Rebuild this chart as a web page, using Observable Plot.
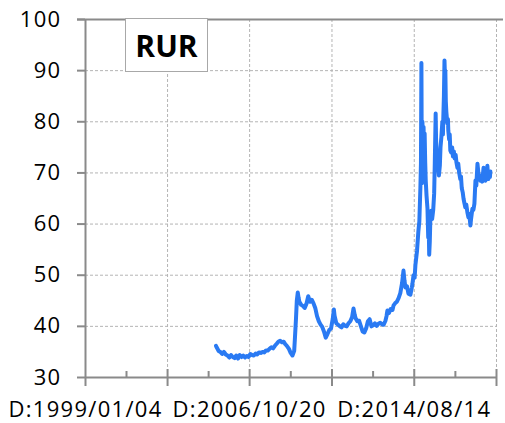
<!DOCTYPE html>
<html>
<head>
<meta charset="utf-8">
<script src="https://cdn.jsdelivr.net/npm/d3@7"></script>
<script src="https://cdn.jsdelivr.net/npm/@observablehq/plot@0.6"></script>
<style>
  html, body { margin: 0; padding: 0; background: #fff; }
  #wrap { position: relative; width: 505px; height: 423px; overflow: hidden; }
  #wrap svg { position: absolute; left: 0; top: 0; }
  #wrap svg text { letter-spacing: 1.3px; }
  #title {
    position: absolute; left: 125px; top: 18px; width: 83px; height: 54px;
    box-sizing: border-box; border: 1.5px solid #a8a8a8; background: #fff;
    font: bold 30px "Open Sans", sans-serif; color: #000;
    display: flex; align-items: center; justify-content: center; z-index: 2;
  }
</style>
</head>
<body>
<div id="wrap"><div id="title">RUR</div></div>
<script>
const titleText = "RUR";

const dates = [
  "2005-03-15","2005-04-01","2005-05-01","2005-06-01","2005-07-01","2005-08-01","2005-09-01","2005-10-01","2005-11-01","2005-12-01",
  "2006-01-01","2006-02-01","2006-03-01","2006-04-01","2006-05-01","2006-06-01","2006-07-01","2006-08-01","2006-09-01","2006-10-01","2006-11-01","2006-12-01",
  "2007-01-01","2007-02-01","2007-03-01","2007-04-01","2007-05-01","2007-06-01","2007-07-01","2007-08-01","2007-09-01","2007-10-01","2007-11-01","2007-12-01",
  "2008-01-01","2008-02-01","2008-03-01","2008-04-01","2008-05-01","2008-06-01","2008-07-01","2008-08-01","2008-09-01","2008-10-01","2008-11-01","2008-12-01","2008-12-15",
  "2009-01-01","2009-01-15","2009-02-01","2009-02-15","2009-03-01","2009-04-01","2009-05-01","2009-06-01","2009-07-01","2009-08-01","2009-09-01","2009-10-01","2009-11-01","2009-12-01",
  "2010-01-01","2010-02-01","2010-03-01","2010-04-01","2010-05-01","2010-06-01","2010-07-01","2010-08-01","2010-09-01","2010-10-01","2010-10-20","2010-11-01","2010-12-01",
  "2011-01-01","2011-02-01","2011-03-01","2011-04-01","2011-05-01","2011-06-01","2011-07-01","2011-08-01","2011-09-01","2011-09-25","2011-10-15","2011-11-01","2011-12-01",
  "2012-01-01","2012-02-01","2012-03-01","2012-04-01","2012-05-01","2012-06-01","2012-07-01","2012-08-01","2012-09-01","2012-10-01","2012-11-01","2012-12-01",
  "2013-01-01","2013-02-01","2013-03-01","2013-04-01","2013-04-20","2013-05-05","2013-06-01","2013-07-01","2013-08-01","2013-08-20","2013-09-15","2013-10-15","2013-11-15","2013-12-15",
  "2014-01-15","2014-02-08","2014-02-25","2014-03-14","2014-04-10","2014-05-05","2014-06-09","2014-07-01","2014-07-14","2014-08-01","2014-08-20","2014-09-03","2014-10-01","2014-10-25","2014-11-10","2014-11-28","2014-12-08","2014-12-16","2014-12-20","2014-12-26",
  "2015-01-03","2015-01-12","2015-01-22","2015-02-01","2015-02-10","2015-02-20","2015-03-01","2015-03-15","2015-03-31","2015-04-13","2015-04-22","2015-04-30","2015-05-10","2015-05-20","2015-06-04","2015-06-20","2015-07-09","2015-07-25","2015-08-05","2015-08-20","2015-08-27",
  "2015-09-05","2015-09-18","2015-10-01","2015-10-15","2015-11-01","2015-11-12","2015-11-27","2015-12-14","2015-12-24","2015-12-31",
  "2016-01-10","2016-01-20","2016-01-28","2016-02-04","2016-02-12","2016-02-21","2016-03-09","2016-03-20","2016-03-26","2016-04-10","2016-04-20","2016-04-30",
  "2016-05-15","2016-06-01","2016-06-15","2016-07-01","2016-07-15","2016-08-01","2016-08-15","2016-09-01","2016-09-15","2016-10-01","2016-10-20","2016-11-01","2016-11-15","2016-12-01","2016-12-15",
  "2017-01-01","2017-01-15","2017-02-01","2017-02-20","2017-03-10","2017-03-25","2017-04-13","2017-04-25","2017-05-18","2017-06-05","2017-06-22","2017-07-10","2017-07-25","2017-08-14","2017-08-30",
  "2017-09-15","2017-10-05","2017-10-20","2017-11-05","2017-11-27","2017-12-10","2017-12-31",
  "2018-01-15","2018-02-02","2018-02-18","2018-03-09","2018-03-18","2018-03-26"
];

const rates = [
  36.2,35.8,35.2,35.0,34.6,35.0,34.5,34.3,33.9,34.4,
  34.0,33.8,34.3,33.7,34.4,34.0,34.3,33.9,34.2,34.0,34.6,34.4,
  34.3,34.7,34.5,34.9,34.8,35.0,34.9,35.3,35.3,35.6,35.9,35.7,
  36.2,36.6,37.0,37.2,36.9,37.0,36.5,36.1,35.6,34.8,34.3,35.2,38.0,
  41.5,45.0,46.6,45.6,44.8,44.2,44.0,43.6,44.4,45.9,44.8,45.2,44.5,43.6,
  42.0,41.0,40.4,39.9,39.0,37.8,38.5,39.3,39.6,41.5,43.3,42.1,40.6,
  40.3,40.0,39.8,40.4,40.1,40.0,40.6,41.0,41.8,43.5,42.3,41.6,41.0,
  41.1,40.0,39.0,38.8,39.6,41.0,41.4,40.0,40.2,40.6,40.1,40.5,
  40.7,40.4,40.3,41.1,42.0,43.1,42.6,43.4,43.2,44.1,44.5,44.8,45.5,46.5,
  48.5,50.9,49.0,47.6,47.8,46.4,46.2,47.5,48.4,50.0,49.5,52.0,54.8,58.7,60.5,67.0,72.0,91.5,79.0,68.0,
  80.0,73.0,79.0,74.0,77.7,72.0,68.5,65.5,63.0,57.4,59.5,54.0,56.5,61.0,62.6,61.0,62.8,66.0,72.0,81.6,76.5,
  74.0,70.5,72.5,69.5,71.5,75.0,77.0,80.0,77.5,81.0,
  85.0,92.0,89.0,90.0,84.0,82.0,79.7,80.5,78.3,76.5,77.5,74.4,
  74.0,75.0,73.2,74.2,72.8,73.5,72.0,71.0,71.8,70.0,68.8,69.3,67.0,66.2,65.0,
  64.0,63.3,63.8,62.3,61.3,62.0,59.7,61.0,63.0,62.8,64.0,68.5,67.5,71.8,70.0,
  69.0,68.5,69.5,68.3,71.0,69.0,68.5,
  70.0,71.4,68.8,70.0,69.2,70.3
];

const yTicks = [30, 40, 50, 60, 70, 80, 90, 100];
const majorTickDates = ["1999-01-04", "2002-11-27", "2006-10-20", "2010-09-17", "2014-08-14", "2018-07-10"];
const majorTickLabels = ["D:1999/01/04", "", "D:2006/10/20", "", "D:2014/08/14", ""];
const minorTickDates = ["2000-12-15", "2004-11-08", "2008-10-03", "2012-08-30", "2016-07-27"];

const parse = s => new Date(s + "T00:00:00Z");
const series = dates.map((d, i) => ({date: parse(d), rate: rates[i]}));
const major = majorTickDates.map(parse);
const minor = minorTickDates.map(parse);
const labelRows = major.map((d, i) => ({date: d, text: majorTickLabels[i]})).filter(r => r.text);
const x0 = major[0];
const axisGray = "#8a8a8a";
const gridGray = "#b4b4b4";

const chart = Plot.plot({
  width: 505,
  height: 423,
  marginLeft: 85,
  marginRight: 9,
  marginTop: 19,
  marginBottom: 46,
  style: {fontFamily: "'Open Sans', sans-serif", fontSize: "22px", color: "#000", background: "transparent", overflow: "visible"},
  x: {type: "utc", domain: [major[0], major[major.length - 1]], axis: null},
  y: {domain: [30, 100], axis: null},
  marks: [
    Plot.ruleY(yTicks.filter(v => v > 30 && v < 100), {stroke: gridGray, strokeWidth: 1, strokeDasharray: "3,2"}),
    Plot.ruleX(major.slice(1), {stroke: gridGray, strokeWidth: 1, strokeDasharray: "3,2"}),
    Plot.ruleY([100], {stroke: axisGray, strokeWidth: 2, insetLeft: -8, insetRight: -7}),
    Plot.ruleY([30], {stroke: axisGray, strokeWidth: 2, insetRight: -1}),
    Plot.ruleX([x0], {stroke: axisGray, strokeWidth: 2, insetBottom: -9}),
    Plot.ruleY(yTicks, {y: d => d, x1: () => x0, x2: () => x0, insetLeft: -8, stroke: axisGray, strokeWidth: 2}),
    Plot.ruleX(major.slice(1), {x: d => d, y1: () => 30, y2: () => 30, insetTop: -8, insetBottom: -9, stroke: axisGray, strokeWidth: 2}),
    Plot.ruleX(minor, {x: d => d, y1: () => 30, y2: () => 30, insetTop: -6, stroke: axisGray, strokeWidth: 2}),
    Plot.text(yTicks, {x: () => x0, y: d => d, text: d => String(d), textAnchor: "end", dx: -24, fontSize: 22, fill: "#000"}),
    Plot.text(labelRows, {x: "date", y: () => 30, text: "text", lineAnchor: "top", dy: 24, fontSize: 22, fill: "#000"}),
    Plot.line(series, {x: "date", y: "rate", stroke: "#2a7af3", strokeWidth: 4, strokeLinejoin: "round", strokeLinecap: "round"})
  ]
});

document.getElementById("wrap").insertBefore(chart, document.getElementById("title"));
document.getElementById("title").textContent = titleText;
</script>
</body>
</html>
